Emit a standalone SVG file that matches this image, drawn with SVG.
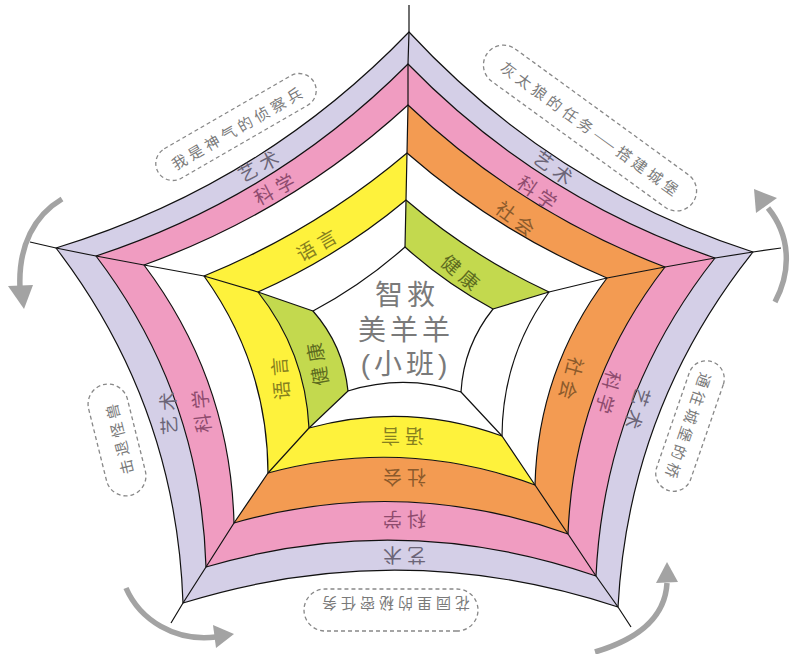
<svg xmlns="http://www.w3.org/2000/svg" width="793" height="654" viewBox="0 0 793 654">
<defs>
<style>
.lav{fill:#d4cfe7}
.pink{fill:#f09cc1}
.org{fill:#f39b52}
.yel{fill:#fef23c}
.grn{fill:#c3d94e}
.ring{fill:none;stroke:#111;stroke-width:1.2;stroke-linejoin:round}
.spoke{fill:none;stroke:#111;stroke-width:1.2;stroke-linejoin:round}
.lbl{font-family:"Noto Sans CJK SC","Noto Sans",sans-serif;font-size:19px;letter-spacing:5px;text-anchor:middle;dominant-baseline:central}
.tl{fill:#6b6577}
.tp{fill:#8e4b6e}
.to{fill:#8b5a2b}
.ty{fill:#86801f}
.tg{fill:#5d6b20}
.bub{fill:none;stroke:#888;stroke-width:1.3;stroke-dasharray:4 3}
.bt{font-family:"Noto Sans CJK SC","Noto Sans",sans-serif;font-size:15px;letter-spacing:4px;fill:#7a7a7a;text-anchor:middle;dominant-baseline:central}
.ctr{font-family:"Liberation Sans","Noto Sans CJK SC",sans-serif;font-size:28px;letter-spacing:4px;fill:#7a7a7a;text-anchor:middle}
.arw{fill:none;stroke:#a3a3a3;stroke-width:5.5}
.ah{fill:#a3a3a3}
</style>
</defs>
<rect width="793" height="654" fill="#fff"/>

<g id="sector-tl">
<path class="lav" d="M56,248 Q260.6,185.9 409,32 L408,64 Q275,197.4 96,256 Z"/>
<path class="pink" d="M96,256 Q275,197.4 408,64 L408,105 Q292,211.4 144,265 Z"/>
<path class="yel" d="M204,276 Q315.3,230.7 407,153 L406,200 Q338.4,256.4 258,292 Z"/>
</g>
<g id="sector-tr">
<path class="lav" d="M409,32 Q552.4,186.7 753,252 L715,258 Q538.2,197.8 408,64 Z"/>
<path class="pink" d="M408,64 Q538.2,197.8 715,258 L665,267 Q520.3,211.7 408,105 Z"/>
<path class="org" d="M408,105 Q520.3,211.7 665,267 L607,278 Q497,231.5 407,153 Z"/>
<path class="grn" d="M406,200 Q471.1,256 549,292 L493,309 Q445.3,283.3 405,247 Z"/>
</g>
<g id="sector-r">
<path class="lav" d="M753,252 Q628.7,407.9 618,607 L596,576 Q604.6,398 715,258 Z"/>
<path class="pink" d="M715,258 Q604.6,398 596,576 L568,534 Q573.8,385 665,267 Z"/>
<path class="org" d="M665,267 Q573.8,385 568,534 L535,485 Q537.9,370 607,278 Z"/>
</g>
<g id="sector-b">
<path class="lav" d="M618,607 Q401.1,535.4 183,603 L206,567 Q402.4,509.1 596,576 Z"/>
<path class="pink" d="M596,576 Q402.4,509.1 206,567 L234,523 Q402.8,475.1 568,534 Z"/>
<path class="org" d="M568,534 Q402.8,475.1 234,523 L268,473 Q403.4,436.3 535,485 Z"/>
<path class="yel" d="M535,485 Q403.4,436.3 268,473 L309,428 Q406.8,401.1 502,436 Z"/>
</g>
<g id="sector-l">
<path class="lav" d="M183,603 Q176.3,405.2 56,248 L96,256 Q200.8,393.9 206,567 Z"/>
<path class="pink" d="M206,567 Q200.8,393.9 96,256 L144,265 Q230.3,379.6 234,523 Z"/>
<path class="yel" d="M268,473 Q267.5,364.3 204,276 L258,292 Q305.3,351.8 309,428 Z"/>
<path class="grn" d="M309,428 Q305.3,351.8 258,292 L313,311 Q343.3,345.4 348,391 Z"/>
</g>

<g id="connectors">
<path class="ring" d="M56,248 Q260.6,185.9 409,32 Q552.4,186.7 753,252 Q628.7,407.9 618,607 Q401.1,535.4 183,603 Q176.3,405.2 56,248 Z"/>
<path class="ring" d="M96,256 Q275,197.4 408,64 Q538.2,197.8 715,258 Q604.6,398 596,576 Q402.4,509.1 206,567 Q200.8,393.9 96,256 Z"/>
<path class="ring" d="M144,265 Q292,211.4 408,105 Q520.3,211.7 665,267 Q573.8,385 568,534 Q402.8,475.1 234,523 Q230.3,379.6 144,265 Z"/>
<path class="ring" d="M204,276 Q315.3,230.7 407,153 Q497,231.5 607,278 Q537.9,370 535,485 Q403.4,436.3 268,473 Q267.5,364.3 204,276 Z"/>
<path class="ring" d="M258,292 Q338.4,256.4 406,200 Q471.1,256 549,292 Q502.5,356.5 502,436 Q406.8,401.1 309,428 Q305.3,351.8 258,292 Z"/>
<path class="ring" d="M313,311 Q362.8,284.5 405,247 Q445.3,283.3 493,309 Q463.7,345.4 461,392 Q404.7,373.4 348,391 Q343.3,345.4 313,311 Z"/>
<path class="spoke" d="M409,5 L409,32 L408,64 L408,105 L407,153 L406,200 L405,247" stroke-width="1.6"/>
<path class="spoke" d="M781,248 L753,252 L715,258 L665,267 L607,278 L549,292 L493,309"/>
<path class="spoke" d="M631,627 L618,607 L596,576 L568,534 L535,485 L502,436 L461,392"/>
<path class="spoke" d="M171,623 L183,603 L206,567 L234,523 L268,473 L309,428 L348,391"/>
<path class="spoke" d="M30,242 L56,248 L96,256 L144,265 L204,276 L258,292 L313,311"/>
</g>

<g id="labels">
<text class="lbl tl" transform="translate(260,164) rotate(-28)">艺术</text>
<text class="lbl tp" transform="translate(276,187) rotate(-28)">科学</text>
<text class="lbl ty" transform="translate(318,243) rotate(-30)">语言</text>

<text class="lbl tl" transform="translate(556,168) rotate(36)">艺术</text>
<text class="lbl tp" transform="translate(540,193) rotate(35)">科学</text>
<text class="lbl to" transform="translate(518,219) rotate(37)">社会</text>
<text class="lbl tg" transform="translate(463,273) rotate(40)">健康</text>

<text class="lbl to" transform="translate(572,381) rotate(105)">社会</text>
<text class="lbl tp" transform="translate(609,395) rotate(106)">科学</text>
<text class="lbl tl" transform="translate(638,411) rotate(108)">艺术</text>

<text class="lbl ty" transform="translate(400,437) rotate(180)">语言</text>
<text class="lbl to" transform="translate(402,478) rotate(180)">社会</text>
<text class="lbl tp" transform="translate(402,520) rotate(180)">科学</text>
<text class="lbl tl" transform="translate(402,556) rotate(180)">艺术</text>

<text class="lbl tl" transform="translate(167,411) rotate(-93)">艺术</text>
<text class="lbl tp" transform="translate(200,409) rotate(-96)">科学</text>
<text class="lbl ty" transform="translate(279,376) rotate(-95)">语言</text>
<text class="lbl tg" transform="translate(316,362) rotate(-100)">健康</text>
</g>

<g id="center">
<text class="ctr" x="407" y="305">智救<tspan x="406" dy="35">美羊羊</tspan><tspan x="406" dy="34">(小班)</tspan></text>
</g>

<g id="bubble-tl" transform="translate(236,127) rotate(-30)">
<rect class="bub" x="-90" y="-17" width="180" height="34" rx="17"/>
<text class="bt" x="2" y="1">我是神气的侦察兵</text>
</g>
<g id="bubble-tr" transform="translate(590,128) rotate(36)">
<rect class="bub" x="-127" y="-20" width="254" height="40" rx="20"/>
<text class="bt" x="2" y="0">灰太狼的任务——搭建城堡</text>
</g>
<g id="bubble-r" transform="translate(690,426) rotate(109)">
<rect class="bub" x="-68" y="-18" width="136" height="36" rx="18"/>
<text class="bt" x="2" y="1">通往城堡的桥</text>
</g>
<g id="bubble-b" transform="translate(391,610) rotate(180)">
<rect class="bub" x="-87" y="-21" width="174" height="42" rx="21"/>
<text class="bt" x="-3" y="6">花园里的秘密任务</text>
</g>
<g id="bubble-l" transform="translate(117,440) rotate(-104)">
<rect class="bub" x="-57" y="-20" width="114" height="40" rx="20"/>
<text class="bt" x="2" y="2">击退怪兽</text>
</g>

<g id="arrows">
<path class="arw" d="M62,199 C35,215 18,245 20,288"/>
<polygon class="ah" points="8,286 33,285 24,309"/>
<path class="arw" d="M126,588 C140,620 175,642 216,637"/>
<polygon class="ah" points="213,625 234,634 216,648"/>
<path class="arw" d="M595,652 C635,640 665,620 667,583"/>
<polygon class="ah" points="656,583 678,582 667,562"/>
<path class="arw" d="M775,302 C792,270 790,235 768,208"/>
<polygon class="ah" points="756,213 777,198 754,189"/>
</g>
</svg>
